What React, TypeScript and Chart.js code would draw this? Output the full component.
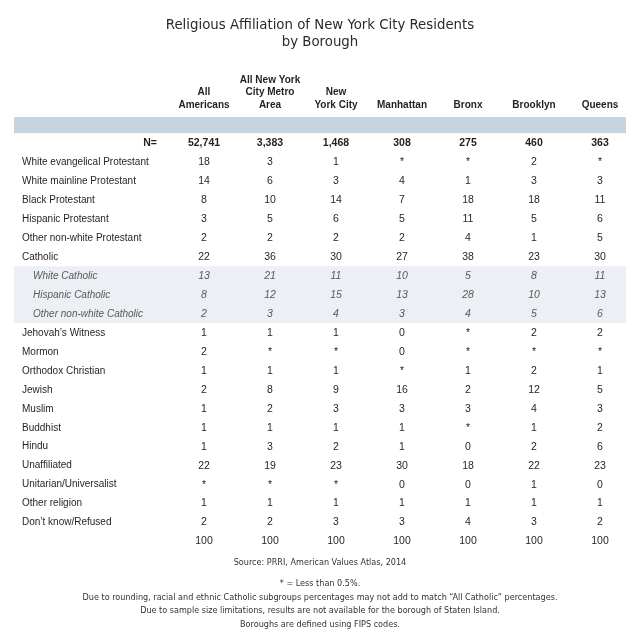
import React, { useEffect, useRef } from "react";
import { Chart, registerables } from "chart.js";

Chart.register(...registerables);

// ---------- data ----------
const titleLines = ["Religious Affiliation of New York City Residents", "by Borough"];

const columnKeys = ["All Americans", "All New York City Metro Area", "New York City", "Manhattan", "Bronx", "Brooklyn", "Queens"];
const columnHeaders = [
  ["All", "Americans"],
  ["All New York", "City Metro", "Area"],
  ["New", "York City"],
  ["Manhattan"],
  ["Bronx"],
  ["Brooklyn"],
  ["Queens"],
];

const rowLabels = [
  "N=",
  "White evangelical Protestant",
  "White mainline Protestant",
  "Black Protestant",
  "Hispanic Protestant",
  "Other non-white Protestant",
  "Catholic",
  "White Catholic",
  "Hispanic Catholic",
  "Other non-white Catholic",
  "Jehovah\u2019s Witness",
  "Mormon",
  "Orthodox Christian",
  "Jewish",
  "Muslim",
  "Buddhist",
  "Hindu",
  "Unaffiliated",
  "Unitarian/Universalist",
  "Other religion",
  "Don\u2019t know/Refused",
  "",
];
const subgroupRows = ["White Catholic", "Hispanic Catholic", "Other non-white Catholic"];

const sampleSizes = [52741, 3383, 1468, 308, 275, 460, 363];

// "*" = less than 0.5%
const allAmericans = [18, 14, 8, 3, 2, 22, 13, 8, 2, 1, 2, 1, 2, 1, 1, 1, 22, "*", 1, 2, 100];
const nycMetro = [3, 6, 10, 5, 2, 36, 21, 12, 3, 1, "*", 1, 8, 2, 1, 3, 19, "*", 1, 2, 100];
const newYorkCity = [1, 3, 14, 6, 2, 30, 11, 15, 4, 1, "*", 1, 9, 3, 1, 2, 23, "*", 1, 3, 100];
const manhattan = ["*", 4, 7, 5, 2, 27, 10, 13, 3, 0, 0, "*", 16, 3, 1, 1, 30, 0, 1, 3, 100];
const bronx = ["*", 1, 18, 11, 4, 38, 5, 28, 4, "*", "*", 1, 2, 3, "*", 0, 18, 0, 1, 4, 100];
const brooklyn = [2, 3, 18, 5, 1, 23, 8, 10, 5, 2, "*", 2, 12, 4, 1, 2, 22, 1, 1, 3, 100];
const queens = ["*", 3, 11, 6, 5, 30, 11, 13, 6, 2, "*", 1, 5, 3, 2, 6, 23, 0, 1, 2, 100];

const columnValues = [allAmericans, nycMetro, newYorkCity, manhattan, bronx, brooklyn, queens];

const sourceLine = "Source: PRRI, American Values Atlas, 2014";
const footnotes = [
  "* = Less than 0.5%.",
  "Due to rounding, racial and ethnic Catholic subgroups percentages may not add to match \u201cAll Catholic\u201d percentages.",
  "Due to sample size limitations, results are not available for the borough of Staten Island.",
  "Boroughs are defined using FIPS codes.",
];

// ---------- styles ----------
const SANS = '"Liberation Sans", Arial, sans-serif';
const NARROW = '"DejaVu Sans Condensed", "Liberation Sans", sans-serif';
const TEXT = "#231f20";
const SUB_TEXT = "#58595b";
const HEADER_BAND = "#c6d4df";
const SUB_BAND = "#eceff4";

const tablePlugin = {
  id: "tableText",
  beforeDatasetsDraw(chart: any) {
    const { ctx, scales } = chart;
    const y = scales.y;
    const step = y.getPixelForValue(1) - y.getPixelForValue(0);
    const y0 = y.getPixelForValue(0);
    ctx.save();
    // header band
    ctx.fillStyle = HEADER_BAND;
    ctx.fillRect(14, y0 - step * 1.37, 612, step * 0.85);
    // catholic subgroup band
    const i1 = rowLabels.indexOf(subgroupRows[0]);
    const i2 = rowLabels.indexOf(subgroupRows[subgroupRows.length - 1]);
    const top = y.getPixelForValue(i1) - step / 2;
    const bottom = y.getPixelForValue(i2) + step / 2;
    ctx.fillStyle = SUB_BAND;
    ctx.fillRect(14, top, 612, bottom - top);
    ctx.restore();
  },
  afterDatasetsDraw(chart: any) {
    const { ctx, scales } = chart;
    const x = scales.x;
    const y = scales.y;
    ctx.save();
    ctx.textBaseline = "middle";
    // cell values
    chart.data.datasets.forEach((ds: any, di: number) => {
      const meta = chart.getDatasetMeta(di);
      meta.data.forEach((el: any, i: number) => {
        const d = ds.data[i];
        const rowName = d.y;
        const isN = rowName === "N=";
        const isSub = subgroupRows.includes(rowName);
        ctx.font = (isN ? "bold " : isSub ? "italic " : "") + "10.5px " + SANS;
        ctx.fillStyle = isSub ? SUB_TEXT : TEXT;
        ctx.textAlign = "center";
        ctx.fillText(String(d.text), el.x, el.y + 0.5);
      });
    });
    // row labels
    rowLabels.forEach((label, i) => {
      if (!label) return;
      const py = y.getPixelForValue(i);
      if (label === "N=") {
        ctx.font = "bold 10.5px " + SANS;
        ctx.fillStyle = TEXT;
        ctx.textAlign = "right";
        ctx.fillText(label, 157, py + 0.5);
        return;
      }
      const isSub = subgroupRows.includes(label);
      ctx.font = (isSub ? "italic " : "") + "10px " + SANS;
      ctx.fillStyle = isSub ? SUB_TEXT : TEXT;
      ctx.textAlign = "left";
      ctx.fillText(label, isSub ? 33 : 22, py + 0.5);
    });
    // column headers
    const y0 = y.getPixelForValue(0);
    ctx.font = "bold 10px " + SANS;
    ctx.fillStyle = TEXT;
    ctx.textAlign = "center";
    columnHeaders.forEach((lines, c) => {
      const px = x.getPixelForValue(c);
      const n = lines.length;
      lines.forEach((line, k) => {
        ctx.fillText(line, px, y0 - 38 - (n - 1 - k) * 12.5);
      });
    });
    ctx.restore();
  },
  afterDraw(chart: any) {
    const { ctx, width } = chart;
    const cx = width / 2;
    ctx.save();
    ctx.textAlign = "center";
    ctx.textBaseline = "middle";
    ctx.fillStyle = "#2a2a2a";
    ctx.font = "14.8px " + NARROW;
    titleLines.forEach((t, i) => ctx.fillText(t, cx, 25 + i * 17.5));
    ctx.font = "9px " + NARROW;
    ctx.fillStyle = "#333";
    ctx.fillText(sourceLine, cx, 563);
    footnotes.forEach((t, i) => ctx.fillText(t, cx, 584 + i * 13.5));
    ctx.restore();
  },
};

export default function App() {
  const ref = useRef<HTMLCanvasElement | null>(null);
  useEffect(() => {
    if (!ref.current) return;
    const datasets = columnKeys.map((key, c) => ({
      label: key,
      data: rowLabels.map((row, r) => ({
        x: key,
        y: row,
        text: r === 0 ? sampleSizes[c].toLocaleString("en-US") : columnValues[c][r - 1],
      })),
      pointRadius: 0,
      pointHoverRadius: 0,
      showLine: false,
    }));
    const chart = new Chart(ref.current, {
      type: "scatter",
      data: { datasets } as any,
      options: {
        animation: false,
        responsive: false,
        events: [],
        layout: { padding: { top: 143, bottom: 99, left: 204, right: 40 } },
        plugins: { legend: { display: false }, tooltip: { enabled: false }, title: { display: false } },
        scales: {
          x: { type: "category", labels: columnKeys, offset: false, display: false },
          y: { type: "category", labels: rowLabels, offset: false, display: false },
        },
      } as any,
      plugins: [tablePlugin],
    });
    return () => chart.destroy();
  }, []);
  return (
    <div style={{ position: "fixed", left: 0, top: 0, width: 640, height: 640, background: "#fff" }}>
      <canvas ref={ref} width={640} height={640} />
    </div>
  );
}
